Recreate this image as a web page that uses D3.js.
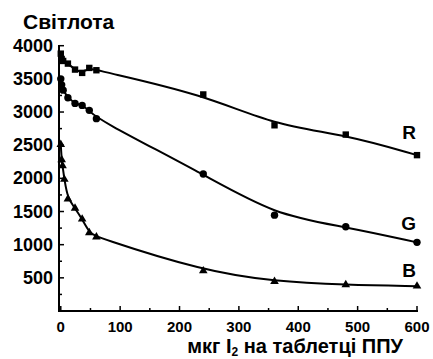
<!DOCTYPE html>
<html>
<head>
<meta charset="utf-8">
<script src="https://d3js.org/d3.v7.min.js"></script>
<style>
  body { margin: 0; background: #fff; }
  text { font-family: Arial, "Liberation Sans", sans-serif; font-weight: bold; fill: #000; }
</style>
</head>
<body>
<svg width="433" height="359" id="chart"></svg>
<script>
var xDose = [0, 1.5, 4, 12, 24, 36, 48, 60, 240, 360, 480, 600];
var valuesR = [3880, 3800, 3770, 3730, 3640, 3590, 3665, 3630, 3265, 2800, 2660, 2350];
var valuesG = [3500, 3410, 3330, 3215, 3130, 3100, 3025, 2900, 2065, 1445, 1270, 1035];
var xDoseB = [0, 1.5, 3, 6, 12, 24, 36, 48, 60, 240, 360, 480, 600];
var valuesB = [2510, 2280, 2190, 1985, 1690, 1550, 1385, 1180, 1115, 605, 445, 395, 375];
var xTicks = [0, 100, 200, 300, 400, 500, 600];
var yTicks = [500, 1000, 1500, 2000, 2500, 3000, 3500, 4000];
var seriesNames = ['R', 'G', 'B'];

var svg = d3.select('#chart');

var x = d3.scaleLinear().domain([-3, 600]).range([59, 417]);
var y = d3.scaleLinear().domain([0, 4000]).range([311, 45.7]);

// axes, ticks pointing inward
var xAxis = svg.append('g').attr('transform', 'translate(0,311)');
xAxis.append('line').attr('x1', 58).attr('x2', 418).attr('stroke', '#000').attr('stroke-width', 2);
xAxis.selectAll('.minor').data(d3.range(50, 600, 100)).enter().append('line')
  .attr('x1', function(d) { return x(d); }).attr('x2', function(d) { return x(d); })
  .attr('y1', 0).attr('y2', -3).attr('stroke', '#000').attr('stroke-width', 1.5);
xAxis.selectAll('.major').data(xTicks).enter().append('line')
  .attr('x1', function(d) { return x(d); }).attr('x2', function(d) { return x(d); })
  .attr('y1', 0).attr('y2', -5).attr('stroke', '#000').attr('stroke-width', 1.5);
xAxis.selectAll('text').data(xTicks).enter().append('text')
  .attr('x', function(d) { return x(d); }).attr('y', 21)
  .attr('text-anchor', 'middle').style('font-size', '15px')
  .text(function(d) { return d; });

var yAxis = svg.append('g').attr('transform', 'translate(59,0)');
yAxis.append('line').attr('y1', 312).attr('y2', 45).attr('stroke', '#000').attr('stroke-width', 2);
yAxis.selectAll('.minor').data(d3.range(250, 4000, 500)).enter().append('line')
  .attr('y1', function(d) { return y(d); }).attr('y2', function(d) { return y(d); })
  .attr('x1', 0).attr('x2', 3).attr('stroke', '#000').attr('stroke-width', 1.5);
yAxis.selectAll('.major').data(yTicks).enter().append('line')
  .attr('y1', function(d) { return y(d); }).attr('y2', function(d) { return y(d); })
  .attr('x1', 0).attr('x2', 5).attr('stroke', '#000').attr('stroke-width', 1.5);
yAxis.selectAll('text').data(yTicks).enter().append('text')
  .attr('x', -6).attr('y', function(d) { return y(d) + 6; })
  .attr('text-anchor', 'end').style('font-size', '18px')
  .text(function(d) { return d; });

svg.append('text').attr('x', 23).attr('y', 29).style('font-size', '21px').text('Світлота');

var xt = svg.append('text').attr('x', 403).attr('y', 353).attr('text-anchor', 'end').style('font-size', '20px');
xt.append('tspan').text('мкг I');
xt.append('tspan').attr('dy', 3).style('font-size', '12px').text('2');
xt.append('tspan').attr('dy', -3).text(' на таблетці ППУ');

var line = d3.line()
  .x(function(d) { return x(d[0]); })
  .y(function(d) { return y(d[1]); })
  .curve(d3.curveBasis);

var rData = d3.zip(xDose, valuesR);
var gData = d3.zip(xDose, valuesG);
var bData = d3.zip(xDoseB, valuesB);

[rData, gData, bData].forEach(function(pts) {
  svg.append('path').datum(pts).attr('d', line)
    .attr('fill', 'none').attr('stroke', '#000').attr('stroke-width', 2);
});

svg.selectAll('.sq').data(rData).enter().append('rect')
  .attr('x', function(d) { return x(d[0]) - 3.2; })
  .attr('y', function(d) { return y(d[1]) - 3.2; })
  .attr('width', 6.4).attr('height', 6.4).attr('fill', '#000');

svg.selectAll('.dot').data(gData).enter().append('circle')
  .attr('cx', function(d) { return x(d[0]); })
  .attr('cy', function(d) { return y(d[1]); })
  .attr('r', 3.7).attr('fill', '#000');

var tri = d3.symbol().type(d3.symbolTriangle).size(32);
svg.selectAll('.tri').data(bData).enter().append('path')
  .attr('d', tri)
  .attr('transform', function(d) { return 'translate(' + x(d[0]) + ',' + y(d[1]) + ')'; })
  .attr('fill', '#000');

// label anchors in data units
var labelPos = [2590, 1220, 510];
svg.selectAll('.lbl').data(seriesNames).enter().append('text')
  .attr('x', 416).attr('y', function(d, i) { return y(labelPos[i]); })
  .attr('text-anchor', 'end').style('font-size', '19px')
  .text(function(d) { return d; });
</script>
</body>
</html>
